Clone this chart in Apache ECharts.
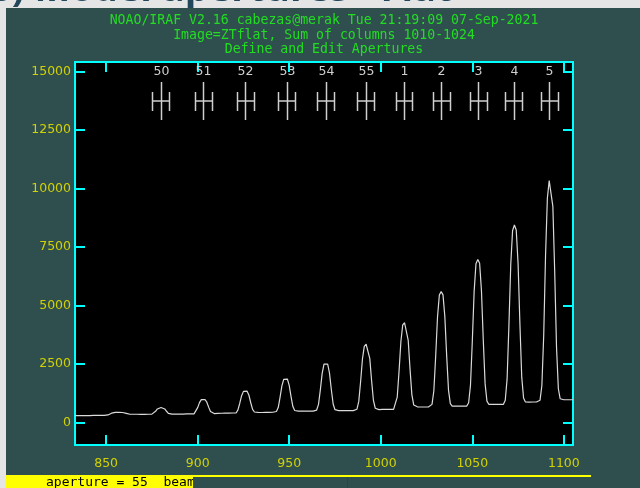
<!DOCTYPE html>
<html>
<head>
<meta charset="utf-8">
<script src="https://cdn.jsdelivr.net/npm/echarts@6/dist/echarts.min.js"></script>
<style>html,body{margin:0;padding:0;background:#2f4f4f;}#c{width:640px;height:488px;}</style>
</head>
<body>
<div id="c"></div>
<script>
// ---- data ----
const firstColumn = 833; // column of the first value below (one value per column)
const flux = [
  290, 285, 285, 290, 285, 285, 290, 295, 290, 290,   // 833-842
  295, 300, 295, 300, 300, 310, 300, 300, 315, 350,   // 843-852
  390, 415, 425, 428, 428, 425, 420, 410, 385, 360,   // 853-862
  345, 342, 345, 343, 346, 345, 342, 345, 344, 346,   // 863-872
  345, 348, 351, 386, 473, 571, 626, 635, 626, 571,   // 873-882
  473, 386, 351, 350, 352, 355, 350, 355, 360, 355,   // 883-892
  358, 360, 355, 360, 362, 360, 443, 630, 843, 971,   // 893-902
  985, 976, 862, 650, 463, 389, 376, 380, 385, 390,   // 903-912
  388, 395, 400, 398, 395, 400, 398, 400, 398, 533,   // 913-922
  817, 1139, 1324, 1352, 1334, 1159, 837, 553, 441, 422, // 923-932
  425, 428, 420, 418, 425, 430, 428, 430, 432, 432,   // 933-942
  462, 631, 1066, 1559, 1837, 1865, 1852, 1584, 1101, 676, // 943-952
  507, 478, 476, 478, 475, 480, 478, 476, 480, 482,   // 953-962
  480, 478, 525, 769, 1391, 2096, 2491, 2550, 2495, 2105, // 963-972
  1404, 784, 540, 497, 498, 495, 500, 497, 500, 498,  // 973-982
  500, 502, 500, 500, 562, 895, 1746, 2710, 3250, 3340, // 983-992
  3265, 2735, 1781, 935, 602, 542, 545, 548, 550, 545, // 993-1002
  550, 552, 550, 553, 555, 640, 1081, 2196, 3457, 4171, // 1003-1012
  4260, 4191, 3502, 2266, 1176, 745, 667, 665, 660, 655, // 1013-1022
  658, 655, 657, 655, 657, 768, 1351, 2830, 4508, 5447, // 1023-1032
  5590, 5454, 4523, 2853, 1379, 798, 692, 692, 690, 693, // 1033-1042
  690, 692, 695, 694, 697, 837, 1579, 3456, 5587, 6783, // 1043-1052
  6970, 6803, 5627, 3511, 1644, 907, 772, 772, 770, 768, // 1053-1062
  770, 772, 770, 770, 772, 943, 1847, 4143, 6744, 8206, // 1063-1072
  8440, 8231, 6794, 4213, 1932, 1038, 872, 870, 868, 872, // 1073-1082
  870, 868, 870, 872, 947, 1574, 3712, 7120, 9585, 10340, // 1083-1092
  10294, 9237, 6462, 3216, 1436, 1007, 962, 965, 960, 965, // 1093-1102
  963, 965, 965                                         // 1103-1105
];
const apLabels = ['50', '51', '52', '53', '54', '55', '1', '2', '3', '4', '5'];
const apCenters = [879.9, 903.1, 925.9, 948.6, 969.9, 991.8, 1012.7, 1033.0, 1053.2, 1072.6, 1092.0];
const apLower = [-4.6, -4.6, -4.6, -4.6, -4.6, -4.6, -4.6, -4.6, -4.6, -4.6, -4.6];
const apUpper = [4.6, 4.6, 4.6, 4.6, 4.6, 4.6, 4.6, 4.6, 4.6, 4.6, 4.6];
const xTicks = [850, 900, 950, 1000, 1050, 1100];
const yTicks = [0, 2500, 5000, 7500, 10000, 12500, 15000];
const xRange = [833, 1105];
const yRange = [-970, 15415];
const titleLines = [
  'NOAO/IRAF V2.16 cabezas@merak Tue 21:19:09 07-Sep-2021',
  'Image=ZTflat, Sum of columns 1010-1024',
  'Define and Edit Apertures'
];
const heading = '6) Model apertures - Flat';
const statusText = 'aperture = 55  beam = 55';

// ---- build ----
const lineData = flux.map((v, i) => [firstColumn + i, v]);
const apData = apCenters.map((c, i) => [c, 0, apLower[i], apUpper[i]]);

const CYAN = '#00ffff';
const TEAL = '#2f4f4f';
const YEL = '#d2d200';
const GREEN = '#22dd22';
const plain = v => String(v);

function axisCommon(showLabel, ticks) {
  return {
    axisLine: { show: true, onZero: false, lineStyle: { color: CYAN, width: 2 } },
    axisTick: { show: true, inside: true, length: 10, customValues: ticks, lineStyle: { color: CYAN, width: 2 } },
    splitLine: { show: false },
    axisLabel: { show: showLabel, customValues: ticks, formatter: plain, color: YEL, fontSize: 12.5, fontFamily: 'DejaVu Sans' }
  };
}

const xBottom = Object.assign(axisCommon(true, xTicks), { type: 'value', position: 'bottom', min: xRange[0], max: xRange[1] });
xBottom.axisLabel.margin = 12;
const xTop = Object.assign(axisCommon(false, xTicks), { type: 'value', position: 'top', min: xRange[0], max: xRange[1] });
const yLeft = Object.assign(axisCommon(true, yTicks), { type: 'value', position: 'left', min: yRange[0], max: yRange[1] });
yLeft.axisLabel.margin = 4;
const yRight = Object.assign(axisCommon(false, yTicks), { type: 'value', position: 'right', min: yRange[0], max: yRange[1] });

const graphics = [
  { type: 'rect', shape: { x: 0, y: 0, width: 640, height: 8 }, style: { fill: '#e5e5e5' }, z: 1 },
  { type: 'rect', shape: { x: 0, y: 0, width: 6, height: 488 }, style: { fill: '#e5e5e5' }, z: 1 },
  { type: 'text', x: -10, y: -10, style: { text: heading, fill: '#22465a', font: 'bold 38px "Open Sans"', verticalAlign: 'middle', align: 'left' }, z: 2 },
  { type: 'rect', shape: { x: 6, y: 8, width: 634, height: 8 }, style: { fill: TEAL }, z: 3 },
  { type: 'rect', shape: { x: 6, y: 475, width: 585, height: 13 }, style: { fill: '#ffff00' }, z: 1 },
  { type: 'text', x: 46, y: 482.5, style: { text: statusText, fill: '#000', font: '13px "DejaVu Sans Mono"', verticalAlign: 'middle' }, z: 2 },
  { type: 'rect', shape: { x: 193, y: 477, width: 398, height: 11 }, style: { fill: TEAL }, z: 3 },
  { type: 'line', shape: { x1: 347.5, y1: 477, x2: 347.5, y2: 488 }, style: { stroke: '#cc0000', lineWidth: 1 }, z: 4 }
];
titleLines.forEach((t, i) => {
  graphics.push({ type: 'text', x: 324, y: 21 + i * 14.5, z: 5,
    style: { text: t, fill: GREEN, font: '13.2px "DejaVu Sans Mono"', align: 'center', verticalAlign: 'middle' } });
});

const chart = echarts.init(document.getElementById('c'), null, { renderer: 'canvas' });
chart.setOption({
  backgroundColor: TEAL,
  animation: false,
  grid: { left: 75, right: 67, top: 62, bottom: 43, show: true, backgroundColor: '#000', borderColor: CYAN, borderWidth: 2 },
  xAxis: [xBottom, xTop],
  yAxis: [yLeft, yRight],
  graphic: graphics,
  series: [
    {
      type: 'line', xAxisIndex: 0, yAxisIndex: 0, data: lineData,
      showSymbol: false, symbol: 'none', silent: true,
      lineStyle: { color: '#dadada', width: 1.2 }, z: 3
    },
    {
      type: 'custom', xAxisIndex: 0, yAxisIndex: 0, data: apData, silent: true, z: 4,
      renderItem: function (params, api) {
        const c = api.value(0);
        const cx = Math.round(api.coord([c, 0])[0]) + 0.5;
        const lo = Math.round(api.coord([c + api.value(2), 0])[0]) + 0.5;
        const hi = Math.round(api.coord([c + api.value(3), 0])[0]) + 0.5;
        const top = params.coordSys.y;
        const st = { stroke: '#cfcfcf', lineWidth: 1.5 };
        return {
          type: 'group',
          children: [
            { type: 'text', style: { text: apLabels[params.dataIndex], x: cx, y: top + 10, align: 'center', verticalAlign: 'middle', fill: '#cfcfcf', font: '12.5px "DejaVu Sans"' } },
            { type: 'line', shape: { x1: cx, y1: top + 20, x2: cx, y2: top + 58 }, style: st },
            { type: 'line', shape: { x1: lo, y1: top + 39, x2: hi, y2: top + 39 }, style: st },
            { type: 'line', shape: { x1: lo, y1: top + 30, x2: lo, y2: top + 49 }, style: st },
            { type: 'line', shape: { x1: hi, y1: top + 30, x2: hi, y2: top + 49 }, style: st }
          ]
        };
      }
    }
  ]
});
</script>
</body>
</html>
